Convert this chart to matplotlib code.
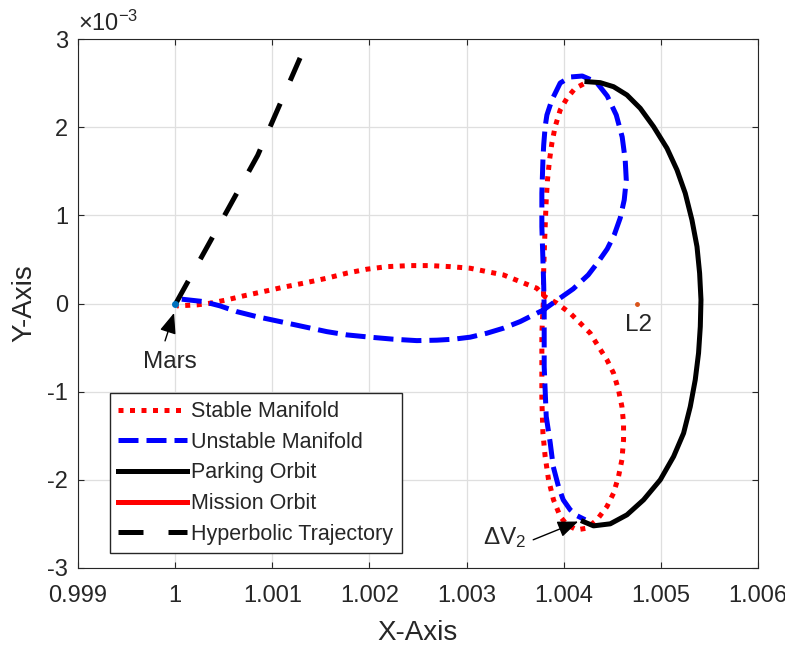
import numpy as np
import matplotlib
matplotlib.use("Agg")
import matplotlib.pyplot as plt
from matplotlib.ticker import FuncFormatter

# trajectories in the rotating frame (x dimensionless, y in units of 1e-3)
stable_x = [1.004204, 1.004118, 1.004033, 1.003964, 1.003912, 1.003878, 1.003854,
            1.003833, 1.003820, 1.003809, 1.003799, 1.003792, 1.003792, 1.003786,
            1.003775, 1.003775, 1.003775, 1.003786, 1.003809, 1.003844, 1.003895,
            1.003964, 1.004033, 1.004136, 1.004239, 1.004342, 1.004445, 1.004513,
            1.004564, 1.004599, 1.004616, 1.004616, 1.004599, 1.004564, 1.004513,
            1.004445, 1.004358, 1.004273, 1.004170, 1.004067, 1.003930, 1.003809,
            1.003724, 1.003552, 1.003380, 1.003209, 1.003037, 1.002831, 1.002625,
            1.002419, 1.002179, 1.001973, 1.001767, 1.001561, 1.001320, 1.001114,
            1.000908, 1.000702, 1.000531, 1.000359, 1.000222, 1.000016]
stable_y = [2.490, 2.441, 2.328, 2.195, 2.006, 1.817, 1.628,
            1.401, 1.175, 0.872, 0.570, 0.305, 0.041, -0.073,
            -0.337, -0.715, -1.093, -1.471, -1.736, -2.000, -2.227,
            -2.416, -2.510, -2.567, -2.548, -2.454, -2.303, -2.151,
            -1.963, -1.773, -1.546, -1.357, -1.169, -0.980, -0.790,
            -0.639, -0.489, -0.337, -0.223, -0.110, 0.003, 0.075,
            0.173, 0.248, 0.324, 0.362, 0.400, 0.418, 0.430,
            0.430, 0.418, 0.389, 0.344, 0.287, 0.230, 0.185,
            0.135, 0.086, 0.041, 0.003, -0.016, -0.027]

unstable_x = [1.000068, 1.000290, 1.000462, 1.000634, 1.000840, 1.001080, 1.001320,
              1.001561, 1.001767, 1.002007, 1.002247, 1.002488, 1.002694, 1.002865,
              1.003037, 1.003209, 1.003380, 1.003552, 1.003689, 1.003792, 1.003892,
              1.004098, 1.004252, 1.004355, 1.004448, 1.004520, 1.004582, 1.004623,
              1.004644, 1.004633, 1.004602, 1.004541, 1.004448, 1.004335, 1.004191,
              1.004067, 1.003964, 1.003878, 1.003827, 1.003809, 1.003794, 1.003786,
              1.003775, 1.003775, 1.003786, 1.003794, 1.003799, 1.003799, 1.003820,
              1.003861, 1.003892, 1.003946, 1.003995, 1.004067, 1.004139, 1.004221]
unstable_y = [0.049, 0.022, -0.027, -0.092, -0.149, -0.205, -0.262,
              -0.319, -0.356, -0.382, -0.405, -0.421, -0.416, -0.405,
              -0.382, -0.337, -0.280, -0.205, -0.129, -0.073, 0.007,
              0.166, 0.324, 0.472, 0.619, 0.778, 0.971, 1.175,
              1.401, 1.628, 1.889, 2.138, 2.354, 2.512, 2.580,
              2.569, 2.501, 2.308, 2.138, 2.006, 1.798, 1.628,
              1.251, 0.872, 0.494, 0.211, -0.073, -0.715, -1.282,
              -1.580, -1.849, -2.076, -2.227, -2.340, -2.408, -2.453]

parking_x = [1.004239, 1.004376, 1.004513, 1.004651, 1.004788, 1.004925, 1.005063,
             1.005166, 1.005251, 1.005320, 1.005372, 1.005399, 1.005413, 1.005406,
             1.005388, 1.005354, 1.005303, 1.005234, 1.005131, 1.004994, 1.004822,
             1.004651, 1.004479, 1.004307, 1.004201]
parking_y = [2.516, 2.505, 2.459, 2.365, 2.214, 2.006, 1.761,
             1.515, 1.251, 0.948, 0.645, 0.344, 0.041, -0.262,
             -0.563, -0.866, -1.169, -1.471, -1.736, -2.000, -2.227,
             -2.397, -2.499, -2.522, -2.473]

mission_x = []
mission_y = []

hyperbolic_x = [1.000010, 1.000420, 1.000850, 1.001286]
hyperbolic_y = [0.007, 0.822, 1.681, 2.785]

mars = (1.0, 0.0)
l2 = (1.004754, 0.0)

x_ticks = [0.999, 1.000, 1.001, 1.002, 1.003, 1.004, 1.005, 1.006]
y_ticks = [-3, -2, -1, 0, 1, 2, 3]

plt.rcParams['font.family'] = ['Liberation Sans', 'DejaVu Sans']
plt.rcParams['mathtext.fontset'] = 'custom'
plt.rcParams['mathtext.rm'] = 'Liberation Sans'
plt.rcParams['mathtext.it'] = 'Liberation Sans'
text_color = '#262626'

fig = plt.figure(figsize=(7.85, 6.45), dpi=100)
ax = fig.add_axes([78 / 785, 1 - 568 / 645, 680 / 785, 529 / 645])

lw = 3.6
s = 1e-3
ax.plot(stable_x, np.array(stable_y) * s, color='red', lw=lw,
        dashes=(1, 1.3), dash_capstyle='butt', label='Stable Manifold')
ax.plot(unstable_x, np.array(unstable_y) * s, color='blue', lw=lw,
        dashes=(4, 1.6), dash_capstyle='butt', label='Unstable Manifold')
ax.plot(parking_x, np.array(parking_y) * s, color='black', lw=lw,
        solid_joinstyle='round', label='Parking Orbit')
ax.plot(mission_x, mission_y, color='red', lw=lw, label='Mission Orbit')
ax.plot(hyperbolic_x, np.array(hyperbolic_y) * s, color='black', lw=lw,
        dashes=(5, 5), dash_capstyle='butt', label='Hyperbolic Trajectory')

ax.plot(mars[0], mars[1] * s, 'o', color='#0072BD', ms=4, zorder=5)
ax.plot(l2[0], l2[1] * s, 'o', color='#D95319', ms=2.5, zorder=5)

# annotations
arrow = dict(arrowstyle='-|>,head_length=0.7,head_width=0.28', color='black',
             lw=1, mutation_scale=18, shrinkA=0, shrinkB=0)
ax.annotate('', xy=(0.999989, -0.107e-3), xytext=(0.999896, -0.424e-3),
            arrowprops=arrow)
ax.text(0.999947, -0.66e-3, 'Mars', fontsize=17.5, ha='center', va='center',
        color=text_color)
ax.annotate('', xy=(1.004149, -2.473e-3), xytext=(1.003686, -2.68e-3),
            arrowprops=arrow)
ax.text(1.003170, -2.66e-3, r'$\Delta\mathregular{V_2}$', fontsize=17.5,
        ha='left', va='center', color=text_color)
ax.text(1.004767, -0.243e-3, 'L2', fontsize=17.5, ha='center', va='center',
        color=text_color)

ax.set_xlim(0.999, 1.006)
ax.set_ylim(-3e-3, 3e-3)
ax.set_xticks(x_ticks)
ax.set_yticks(np.array(y_ticks) * s)
ax.xaxis.set_major_formatter(FuncFormatter(lambda v, p: '%g' % round(v, 6)))
ax.yaxis.set_major_formatter(FuncFormatter(lambda v, p: '%g' % round(v * 1e3, 6)))
ax.tick_params(direction='in', length=4, width=0.8, top=True, right=True,
               labelsize=17, labelcolor=text_color, color=text_color)
ax.tick_params(axis='x', pad=12.5)
ax.tick_params(axis='y', pad=7)
ax.grid(True, color='#DFDFDF', lw=0.9)
ax.set_axisbelow(True)
for sp in ax.spines.values():
    sp.set_color(text_color)
    sp.set_linewidth(0.8)

ax.text(0.0, 1.005, r'$\times\mathregular{10^{-3}}$', transform=ax.transAxes,
        fontsize=17, ha='left', va='bottom', color=text_color)

ax.set_xlabel('X-Axis', fontsize=20, color=text_color, labelpad=9)
ax.set_ylabel('Y-Axis', fontsize=20, color=text_color, labelpad=7)

leg = ax.legend(loc='lower left', bbox_to_anchor=(32 / 680, 15 / 529),
                fontsize=15.5, handlelength=3.2, handletextpad=0.2,
                labelspacing=0.45, borderpad=0.38, borderaxespad=0,
                fancybox=False, framealpha=1, edgecolor=text_color)
leg.get_frame().set_linewidth(1)
for t in leg.get_texts():
    t.set_color(text_color)

fig.savefig('out.png', dpi=100)
